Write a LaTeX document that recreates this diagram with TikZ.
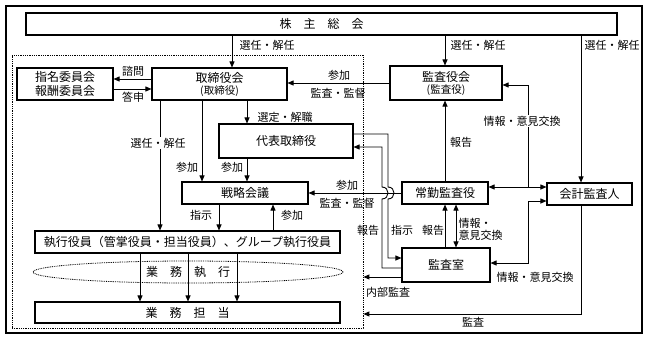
\documentclass[tikz,border=0pt]{standalone}
\usepackage{fontspec}
\setmainfont{Noto Sans CJK JP}
\usetikzlibrary{arrows.meta,shapes.geometric}
\begin{document}
\begin{tikzpicture}[x=1pt,y=-1pt,
  box/.style={draw,line width=1.1pt,inner sep=0pt,align=center,font=\fontsize{12}{14}\selectfont},
  lab/.style={inner sep=0.5pt,font=\fontsize{11}{12.5}\selectfont,align=left},
  wlab/.style={lab,fill=white},
  arr/.style={line width=0.9pt,-{Triangle[length=6pt,width=5pt]}},
  arrs/.style={line width=0.9pt,{Triangle[length=6pt,width=5pt]}-{Triangle[length=6pt,width=5pt]}},
  ln/.style={line width=0.9pt},
  dots/.style={line width=0.8pt,dash pattern=on 0.9pt off 0.9pt}]
\useasboundingbox (0,0) rectangle (648,340);
\fill[white] (0,0) rectangle (648,340);
% frames
\node[draw,line width=1.4pt,minimum width=636pt,minimum height=327pt,inner sep=0pt] (frame) at (324,169.5) {};
\node[draw,dots,minimum width=351pt,minimum height=273pt,inner sep=0pt] (inner) at (187.5,191.5) {};
% boxes
\node[box,minimum width=591pt,minimum height=22pt] (shm) at (321.5,24) {株　主　総　会};
\node[box,minimum width=96pt,minimum height=32pt] (shimei) at (65,84) {指名委員会\\報酬委員会};
\node[box,minimum width=135pt,minimum height=32pt] (tori) at (219.5,84) {取締役会\\[-2pt]{\fontsize{10.5}{12}\selectfont (取締役)}};
\node[box,minimum width=112pt,minimum height=34pt] (kyk) at (446,83) {監査役会\\[-2pt]{\fontsize{10.5}{12}\selectfont (監査役)}};
\node[box,minimum width=134pt,minimum height=34pt] (daihyo) at (286,141) {代表取締役};
\node[box,minimum width=126pt,minimum height=22pt] (senryaku) at (245,193) {戦略会議};
\node[box,minimum width=86pt,minimum height=22pt] (joukin) at (445,193) {常勤監査役};
\node[box,minimum width=85pt,minimum height=22pt] (kaikei) at (589.5,194) {会計監査人};
\node[box,minimum width=305pt,minimum height=22pt] (shikkou) at (187.5,242) {執行役員（管掌役員・担当役員）、グループ執行役員};
\node[box,minimum width=88pt,minimum height=34pt] (kshitsu) at (446,265) {監査室};
\node[box,minimum width=305pt,minimum height=21pt] (gyomu) at (187.5,312.5) {業　務　担　当};
\node[draw,dots,ellipse,minimum width=310pt,minimum height=22pt,inner sep=0pt] (ell) at (188,272) {};
\node[inner sep=0pt,font=\fontsize{12}{14}\selectfont] (gsk) at (188,272) {業　務　執　行};
% helper coordinates
\coordinate (x140) at (140,0);
\coordinate (x160) at (160,0);
\coordinate (x188) at (188,0);
\coordinate (x202) at (202,0);
\coordinate (x219) at (219,0);
\coordinate (x232) at (232,0);
\coordinate (x237) at (237,0);
\coordinate (x247) at (247,0);
\coordinate (x273) at (273,0);
\coordinate (x382) at (382,0);
\coordinate (x388) at (388,0);
\coordinate (x445) at (445,0);
\coordinate (x456) at (456,0);
\coordinate (x528) at (528,0);
\coordinate (x581) at (581,0);
\coordinate (y79) at (0,79);
\coordinate (y83) at (0,83);
\coordinate (y85) at (0,85);
\coordinate (y89) at (0,89);
\coordinate (y134) at (0,134);
\coordinate (y147) at (0,147);
\coordinate (y187) at (0,187);
\coordinate (y199) at (0,199);
\coordinate (y201) at (0,201);
\coordinate (y258) at (0,258);
\coordinate (y263) at (0,263);
\coordinate (y268) at (0,268);
\coordinate (y277) at (0,277);
\coordinate (y314) at (0,314);
\coordinate (j1) at (528,187);
% from shareholders
\draw[arr] (x232 |- shm.south) -- (x232 |- tori.north);
\node[lab,anchor=west] (l1) at (239,45) {選任・解任};
\draw[arr] (x445 |- shm.south) -- (x445 |- kyk.north);
\node[lab,anchor=west] (l2) at (450,45) {選任・解任};
\draw[arr] (x581 |- shm.south) -- (x581 |- kaikei.north);
\node[lab,anchor=west] (l3) at (584,45) {選任・解任};
% committees
\draw[arr] (tori.west |- y79) -- (shimei.east |- y79);
\node[lab] (l4) at (133,71) {諮問};
\draw[arr] (shimei.east |- y89) -- (tori.west |- y89);
\node[lab] (l5) at (133,97) {答申};
% kansayakukai -> tori
\draw[arr] (kyk.west |- y83) -- (tori.east |- y83);
\node[lab] (l6) at (339,75) {参加};
\node[lab] (l7) at (338,93) {監査・監督};
% tori down
\draw[arr] (x160 |- tori.south) -- (x160 |- shikkou.north);
\node[wlab] (l8) at (158,143) {選任・解任};
\draw[arr] (x202 |- tori.south) -- (x202 |- senryaku.north);
\node[lab] (l9) at (187,167) {参加};
\draw[arr] (x247 |- tori.south) -- (x247 |- daihyo.north);
\node[lab,anchor=west] (l10) at (257,117) {選定・解職};
\draw[arr] (x247 |- daihyo.south) -- (x247 |- senryaku.north);
\node[lab] (l11) at (232,167) {参加};
\draw[arr] (x219 |- senryaku.south) -- (x219 |- shikkou.north);
\node[lab] (l12) at (201,215) {指示};
\draw[arr] (x273 |- shikkou.north) -- (x273 |- senryaku.south);
\node[lab] (l13) at (292,215) {参加};
% shikkou -> gyomu
\draw[arr] (x140 |- shikkou.south) -- (x140 |- gyomu.north);
\draw[arr] (x188 |- shikkou.south) -- (x188 |- gyomu.north);
\draw[arr] (x237 |- shikkou.south) -- (x237 |- gyomu.north);
% joukin -> senryaku
\draw[arr] (joukin.west) -- (senryaku.east);
\node[lab] (l14) at (347,185) {参加};
\node[lab] (l15) at (347,203) {監査・監督};
% daihyo -> kansashitsu (shiji)
\draw[arr] (daihyo.east |- y134) -- (x388 |- y134) -- (x388 |- y187)
   .. controls (396,187) and (396,199) .. (x388 |- y199) -- (x388 |- y258) -- (kshitsu.west |- y258);
% kansashitsu -> daihyo (houkoku)
\draw[arr] (kshitsu.west |- y268) -- (x382 |- y268) -- (x382 |- y199)
   .. controls (390,199) and (390,187) .. (x382 |- y187) -- (x382 |- y147) -- (daihyo.east |- y147);
\node[lab] (l16) at (368,230) {報告};
\node[lab] (l17) at (402,230) {指示};
% joukin <-> kansashitsu
\draw[arr] (x445 |- kshitsu.north) -- (x445 |- joukin.south);
\node[lab] (l18) at (433,230) {報告};
\draw[arrs] (x456 |- joukin.south) -- (x456 |- kshitsu.north);
\node[lab,anchor=west,font=\fontsize{11}{12}\selectfont] (l19) at (458,229) {情報・\\意見交換};
% joukin -> kansayakukai
\draw[arr] (x445 |- joukin.north) -- (x445 |- kyk.south);
\node[lab] (l20) at (461,142) {報告};
% joukin <-> kaikei
\draw[arrs] (joukin.east |- y187) -- (kaikei.west |- y187);
\draw[arr] (j1) -- (x528 |- y85) -- (kyk.east |- y85);
\node[wlab] (l21) at (522,121) {情報・意見交換};
% kansashitsu <-> kaikei
\draw[arrs] (kshitsu.east |- y263) -- (x528 |- y263) -- (x528 |- y201) -- (kaikei.west |- y201);
\node[lab] (l22) at (535,277) {情報・意見交換};
% internal audit
\draw[arr] (kshitsu.west |- y277) -- (inner.east |- y277);
\node[lab] (l23) at (388,292) {内部監査};
% audit
\draw[arr] (x581 |- kaikei.south) -- (x581 |- y314) -- (inner.east |- y314);
\node[lab] (l24) at (473,322) {監査};
\end{tikzpicture}
\end{document}
